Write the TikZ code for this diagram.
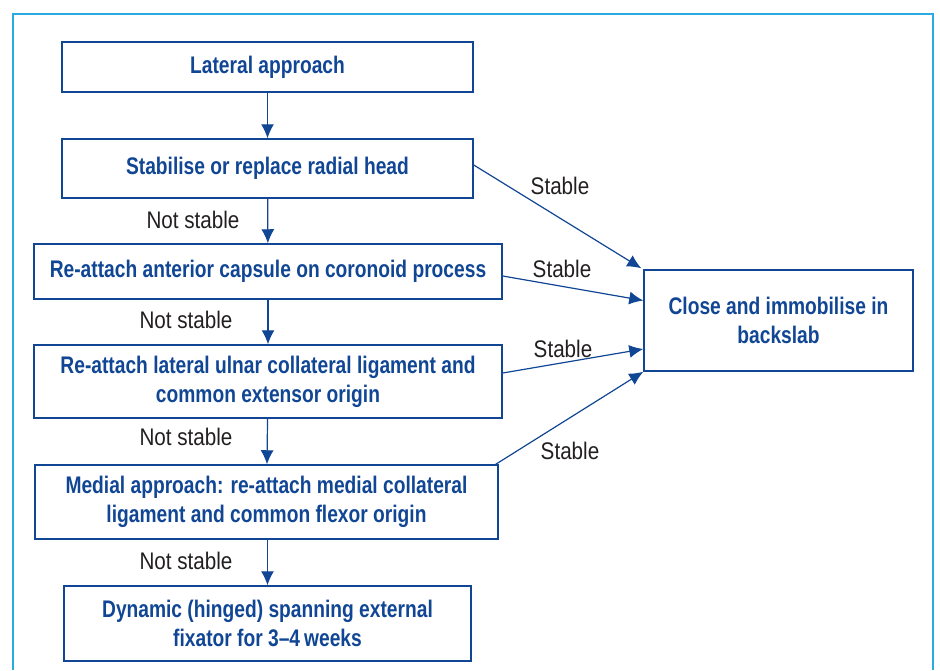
\documentclass[tikz,border=0pt]{standalone}
\usepackage{fontspec}
\setmainfont{Liberation Sans}[FakeStretch=0.86]
\newfontfamily\boxfont{Liberation Sans}[FakeStretch=0.80,Ligatures=TeX]
\usetikzlibrary{arrows.meta}
\definecolor{flowblue}{RGB}{16,70,148}
\definecolor{labelgray}{RGB}{35,31,32}
\definecolor{framecyan}{RGB}{41,171,226}
\tikzset{
  flowbox/.style={draw=flowblue, line width=0.75pt, text=flowblue, align=center,
    inner sep=0pt, font=\boxfont\bfseries\fontsize{12}{14.5}\selectfont},
  lbl/.style={text=labelgray, font=\fontsize{12}{14.5}\selectfont},
  arr/.style={draw=flowblue, line width=0.6pt, -{Latex[length=7pt,width=6.5pt]}}
}
\begin{document}
\begin{tikzpicture}[x=0.5pt,y=-0.5pt]
                \useasboundingbox (0,0) rectangle (940,670);
                \draw [framecyan, line width=0.8pt] (13,670) -- (13,14) -- (933,14) -- (933,670) ;
                % left column
                \node [flowbox, minimum width=205.5pt, minimum height=25pt] (lat) at (267.5,67) {Lateral approach};
                \node [flowbox, minimum width=205.5pt, minimum height=29.5pt] (stab) at (267.5,168.5) {Stabilise or replace radial head};
                \node [flowbox, minimum width=234pt, minimum height=27.5pt] (ant) at (268,271.5) {Re-attach anterior capsule on coronoid process};
                \node [flowbox, minimum width=234pt, minimum height=36.5pt] (lucl) at (268,381.5) {Re-attach lateral ulnar collateral ligament and\\common extensor origin};
                \node [flowbox, minimum width=231.5pt, minimum height=37pt] (med) at (266.5,502) {Medial approach: re-attach medial collateral\\ligament and common flexor origin};
                \node [flowbox, minimum width=203.5pt, minimum height=37.5pt] (dyn) at (267.5,623.5) {Dynamic (hinged) spanning external\\fixator for 3--4\,weeks};
                % right box
                \node [flowbox, minimum width=134.5pt, minimum height=50.5pt] (close) at (778.5,320.5) {Close and immobilise in\\backslab};
                % labels
                \node [lbl] (ns1) at (193,220) {Not stable};
                \node [lbl] (ns2) at (186,320) {Not stable};
                \node [lbl] (ns3) at (186,437) {Not stable};
                \node [lbl] (ns4) at (186,561) {Not stable};
                \node [lbl] (st1) at (560,186) {Stable};
                \node [lbl] (st2) at (562,269) {Stable};
                \node [lbl] (st3) at (563,349) {Stable};
                \node [lbl] (st4) at (570,451) {Stable};
                % arrows
                \draw [arr] (lat) -- (stab) ;
                \draw [arr] (stab) -- (ant) ;
                \draw [arr] (ant) -- (lucl) ;
                \draw [arr] (lucl) -- (med) ;
                \draw [arr] (med.south -| stab.south) -- (dyn.north -| stab.south) ;
                \draw [arr] ([yshift=1.75pt]stab.east) -- ([xshift=-1pt,yshift=0.5pt]close.north west) ;
                \draw [arr] ([yshift=-2.25pt]ant.east) -- ([yshift=10pt]close.west) ;
                \draw [arr] ([yshift=4.25pt]lucl.east) -- ([yshift=-14.25pt]close.west) ;
                \draw [arr] ([xshift=-1.5pt]med.north east) -- (close.south west) ;
\end{tikzpicture}
\end{document}
